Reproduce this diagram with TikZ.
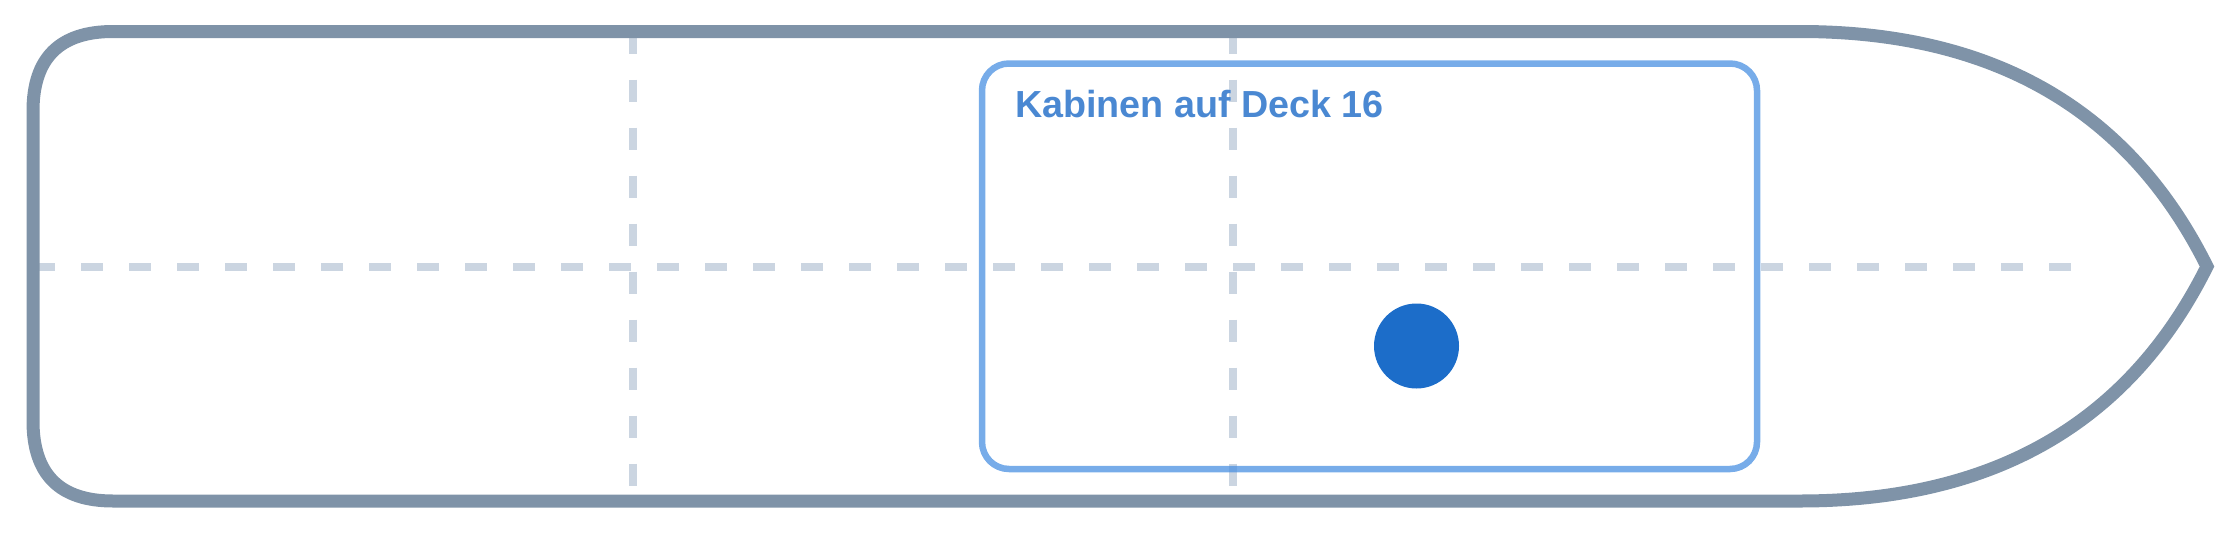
\documentclass[tikz,border=0pt]{standalone}
\usepackage{fontspec}
\setmainfont{Liberation Sans}
\definecolor{hullc}{HTML}{7F93A8}
\definecolor{gridc}{HTML}{CBD5E1}
\definecolor{zonec}{HTML}{4A90E2}
\definecolor{labelc}{RGB}{74,136,210}
\definecolor{dotc}{RGB}{28,109,201}
\begin{document}
\begin{tikzpicture}[x=1pt,y=-1pt,
  hull/.style={draw=hullc,line width=13pt,line join=miter},
  gridline/.style={draw=gridc,line width=8pt,dash pattern=on 22pt off 26pt},
  zone/.style={draw=zonec,draw opacity=0.75,line width=6.5pt,rounded corners=27pt},
  zonelabel/.style={text=labelc,font=\fontsize{37.7}{40}\selectfont\bfseries,inner sep=0pt,anchor=base west},
  dot/.style={circle,fill=dotc,draw=none,minimum size=85pt,inner sep=0pt}]
\useasboundingbox (0,0) rectangle (2240,533);
% grid
\coordinate (hl) at (33,266.5);
\coordinate (hr) at (2072,266.5);
\coordinate (v1t) at (633,31.5);
\coordinate (v1b) at (633,501);
\coordinate (v2t) at (1233,31.5);
\coordinate (v2b) at (1233,501);
\draw[gridline] (hl) -- (hr);
\draw[gridline] (v1t) -- (v1b);
\draw[gridline] (v2t) -- (v2b);
% hull
\draw[hull] (33,111) .. controls (33,58) and (59.7,31.5) .. (113,31.5) -- (1800,31.5)
  .. controls (1993.3,31.5) and (2129,109.8) .. (2207,266.5)
  .. controls (2129,423.2) and (1993.3,501) .. (1800,501) -- (113,501)
  .. controls (59.7,501) and (33,474.5) .. (33,421) -- cycle;
% zone
\draw[zone] (982,63.5) rectangle (1757,469);
\node[zonelabel] (lab) at (1015,117) {Kabinen auf Deck 16};
\node[dot] (pos) at (1416.5,346) {};
\end{tikzpicture}
\end{document}
